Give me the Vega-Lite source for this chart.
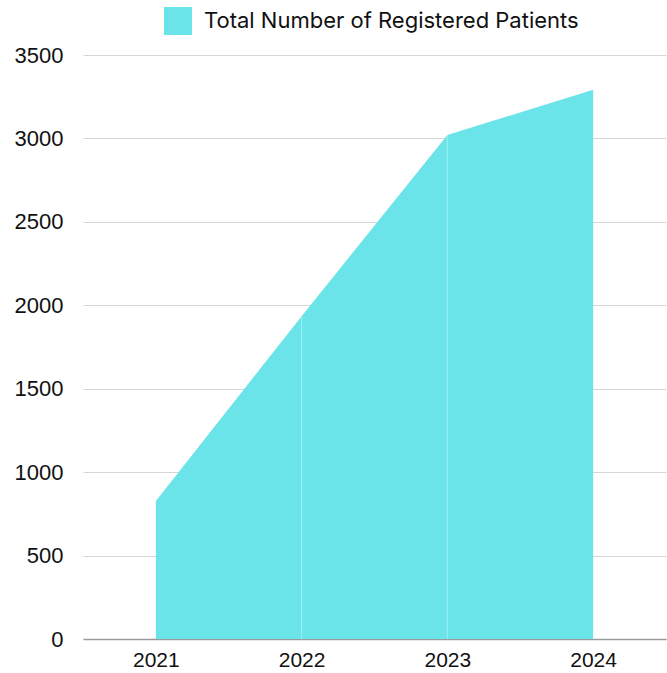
{
  "$schema": "https://vega.github.io/schema/vega-lite/v6.json",
  "autosize": "none",
  "width": 583,
  "height": 584,
  "padding": {"left": 83, "top": 55, "right": 1, "bottom": 34},
  "background": "white",
  "config": {"view": {"stroke": null}},
  "data": {"values": [
    {"year": "2021", "patients": 827, "series": "Total Number of Registered Patients"},
    {"year": "2022", "patients": 1935, "series": "Total Number of Registered Patients"},
    {"year": "2023", "patients": 3020, "series": "Total Number of Registered Patients"},
    {"year": "2024", "patients": 3292, "series": "Total Number of Registered Patients"}
  ]},
  "encoding": {
    "x": {"field": "year", "type": "ordinal", "scale": {"type": "point", "padding": 0.5},
      "axis": {"title": null, "labelAngle": 0, "ticks": false, "domainColor": "#9a9a9a", "domainWidth": 1.5,
        "labelFont": "Liberation Sans", "labelFontSize": 21, "labelColor": "#111", "labelPadding": 10, "grid": false}}
  },
  "layer": [
    {
      "mark": {"type": "area", "opacity": 1},
      "encoding": {
        "y": {"field": "patients", "type": "quantitative", "scale": {"domain": [0, 3500]},
          "axis": {"title": null, "format": "d", "values": [0, 500, 1000, 1500, 2000, 2500, 3000, 3500], "domain": false, "ticks": false,
            "gridColor": "#d6d6d6", "gridWidth": 1, "labelFont": "Liberation Sans", "labelFontSize": 22,
            "labelColor": "#111", "labelPadding": 20}},
        "color": {"field": "series", "type": "nominal", "scale": {"range": ["#6ae4e8"]},
          "legend": {"title": null, "orient": "none", "legendX": 81, "legendY": -48, "symbolType": "square",
            "symbolSize": 784, "symbolStrokeWidth": 0, "symbolOpacity": 1, "labelFont": "Inter", "labelFontSize": 22,
            "labelLimit": 600, "labelColor": "#111", "labelOffset": 12}}
      }
    },
    {
      "mark": {"type": "rule", "color": "#9df0f2", "strokeWidth": 1},
      "transform": [{"filter": "datum.year == '2022' || datum.year == '2023'"}],
      "encoding": {
        "y": {"field": "patients", "type": "quantitative"},
        "y2": {"datum": 0}
      }
    }
  ]
}
